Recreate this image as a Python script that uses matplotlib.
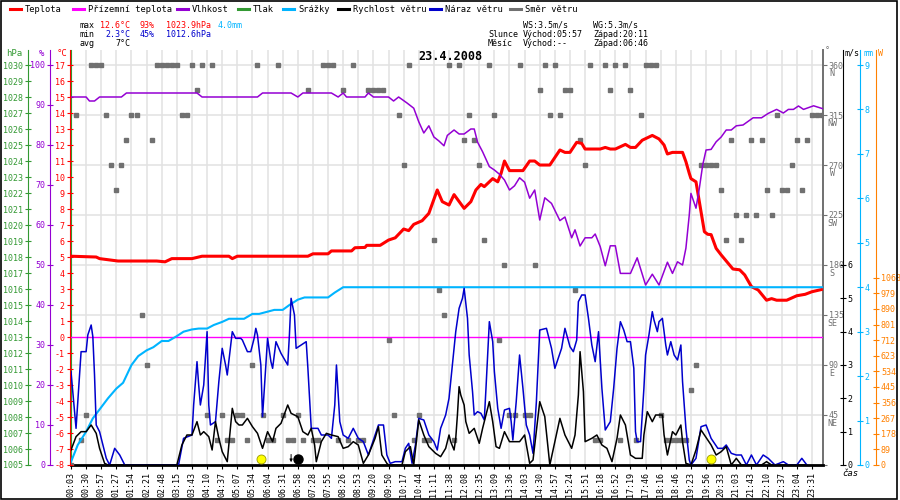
import matplotlib
matplotlib.use("Agg")
import matplotlib.pyplot as plt
from matplotlib.lines import Line2D
from matplotlib.patches import Rectangle

plt.rcParams["font.family"] = ["DejaVu Sans Mono"]
plt.rcParams["font.size"] = 6

# sample index: one sample every 3 steps, a time label every 9 steps
time_labels = ["00:03", "00:30", "00:57", "01:27", "01:54", "02:21", "02:48", "03:15", "03:43", "04:10",
               "04:37", "05:07", "05:34", "06:04", "06:31", "06:58", "07:28", "07:55", "08:26", "08:53",
               "09:20", "09:50", "10:17", "10:44", "11:11", "11:38", "12:08", "12:35", "13:09", "13:36",
               "14:03", "14:30", "14:57", "15:24", "15:51", "16:18", "16:52", "17:19", "17:46", "18:16",
               "18:46", "19:23", "19:56", "20:33", "21:03", "21:43", "22:10", "22:37", "23:04", "23:31"]
tick_idx = [9 * i for i in range(len(time_labels))]

temp_idx = [0, 15, 17, 28, 51, 56, 60, 72, 78, 94, 96, 99, 141, 144, 153, 155, 167, 169, 175, 176,
            184, 189, 193, 198, 201, 204, 209, 213, 218, 221, 225, 228, 234, 238, 241, 244, 246, 251,
            254, 256, 258, 261, 269, 273, 276, 279, 285, 291, 294, 297, 301, 304, 306, 315, 318, 321,
            324, 330, 333, 336, 340, 346, 350, 353, 355, 358, 364, 366, 368, 369, 372, 373, 375, 377,
            379, 381, 384, 387, 392, 394, 398, 401, 405, 409, 414, 417, 420, 426, 432, 437, 441, 448]
temp_val = [5.05, 5.0, 4.9, 4.75, 4.75, 4.7, 4.9, 4.9, 5.05, 5.05, 4.9, 5.05, 5.05, 5.2, 5.2, 5.38,
            5.38, 5.58, 5.6, 5.73, 5.73, 6.06, 6.2, 6.75, 6.65, 7.04, 7.27, 7.73, 9.19, 8.46, 8.25, 8.9,
            8.04, 8.46, 9.19, 9.54, 9.4, 9.9, 9.7, 10.23, 11.0, 10.4, 10.4, 11.0, 11.0, 10.75, 10.75,
            11.69, 11.54, 11.54, 12.17, 12.1, 11.75, 11.75, 11.85, 11.75, 11.75, 12.04, 11.85, 11.85,
            12.3, 12.6, 12.38, 12.0, 11.44, 11.54, 11.54, 10.96, 10.23, 9.9, 9.7, 9.08, 7.83, 6.58,
            6.42, 6.4, 5.54, 5.13, 4.5, 4.25, 4.2, 3.88, 3.15, 2.94, 2.3, 2.4, 2.3, 2.3, 2.58, 2.67,
            2.83, 3.0]

hum_idx = [0, 9, 11, 14, 17, 30, 33, 75, 78, 111, 114, 131, 135, 138, 155, 159, 162, 164, 175, 177,
           180, 189, 192, 195, 200, 204, 207, 210, 213, 216, 219, 222, 224, 228, 231, 234, 238, 240,
           242, 245, 249, 252, 255, 258, 261, 264, 267, 270, 273, 276, 279, 282, 286, 291, 294, 298,
           300, 303, 306, 310, 312, 315, 318, 321, 324, 327, 333, 337, 342, 346, 350, 355, 358, 361,
           364, 366, 368, 369, 372, 374, 376, 378, 381, 384, 387, 390, 393, 396, 400, 406, 411, 415,
           420, 424, 427, 430, 433, 436, 442, 448]
hum_val = [92, 92, 91, 91, 92, 92, 93, 93, 92, 92, 93, 93, 92, 93, 93, 92, 93, 92, 92, 93,
           92, 92, 91, 92, 90.5, 89.2, 85.8, 83, 84.8, 82, 81, 79.8, 82.4, 83.75, 82.75, 82.75, 84, 84,
           80.7, 78.3, 74.6, 73.75, 72.7, 71.25, 68.75, 69.8, 71.8, 70.7, 66.7, 68.75, 61.25, 66.8,
           65.4, 61.1, 62, 56.8, 58.8, 54.75, 56.8, 56.8, 57.75, 54.6, 49.8, 54.8, 54.8, 47.9, 47.9,
           51.8, 45, 47.7, 45, 50.7, 47.9, 50.8, 50, 54.2, 62.5, 67.9, 64.2, 69.2, 75, 78.75, 78.9,
           80.8, 82, 83.75, 83.75, 84.8, 85, 86.8, 86.8, 87.9, 88.9, 88, 88.9, 88.9, 89.75, 88.9,
           89.8, 89]

rain_idx = [0, 4, 9, 13, 18, 22, 27, 31, 36, 40, 45, 49, 54, 58, 63, 67, 72, 76, 81, 85, 90, 94,
            99, 103, 108, 112, 117, 121, 126, 130, 135, 139, 153, 157, 162, 448]
rain_val = [0.07, 0.45, 0.75, 1.05, 1.3, 1.5, 1.72, 1.85, 2.25, 2.45, 2.58, 2.65, 2.79, 2.79, 2.9,
            3.0, 3.05, 3.07, 3.07, 3.15, 3.22, 3.29, 3.29, 3.29, 3.4, 3.4, 3.45, 3.49, 3.49, 3.6,
            3.72, 3.77, 3.77, 3.88, 4.0, 4.0]

gust_idx = [0, 3, 6, 9, 10, 12, 13, 14, 15, 17, 18, 21, 23, 26, 29, 32, 64, 67, 72, 73, 75, 76, 77,
            79, 81, 82, 83, 86, 88, 90, 92, 93, 96, 98, 101, 102, 105, 107, 109, 110, 111, 113, 114,
            116, 117, 119, 120, 122, 125, 129, 130, 131, 133, 134, 137, 140, 141, 143, 147, 149, 153,
            155, 157, 158, 160, 162, 165, 168, 171, 174, 177, 181, 183, 186, 188, 190, 193, 197, 199,
            201, 203, 205, 207, 210, 213, 216, 218, 220, 223, 225, 227, 229, 231, 233, 234, 236, 237,
            239, 240, 242, 244, 246, 247, 249, 251, 252, 254, 256, 258, 261, 262, 263, 265, 267, 269,
            271, 273, 275, 277, 279, 283, 286, 288, 292, 294, 297, 299, 301, 302, 304, 306, 308, 310,
            312, 314, 316, 318, 321, 323, 325, 327, 329, 331, 333, 335, 336, 337, 339, 341, 342, 344,
            346, 347, 349, 350, 352, 354, 355, 357, 359, 361, 363, 364, 366, 368, 369, 372, 375, 378,
            381, 385, 388, 390, 393, 396, 399, 402, 405, 408, 412, 415, 417, 419, 424, 427, 432, 435,
            438]
gust_val = [2.8, 1.1, 3.4, 3.4, 3.9, 4.2, 3.85, 2.7, 1.2, 1.0, 0.8, 0.2, 0, 0.5, 0.3, 0, 0, 0.8, 0.9,
            1.8, 3.1, 2.4, 1.8, 2.4, 4.0, 1.8, 1.2, 1.3, 2.5, 3.5, 3.0, 2.7, 4.0, 3.8, 3.8, 3.75, 3.4,
            3.4, 3.8, 4.1, 3.9, 3.0, 1.45, 3.0, 3.8, 3.1, 2.9, 3.7, 3.35, 3.0, 3.9, 5.0, 4.5, 3.5, 3.6,
            3.7, 2.9, 1.1, 1.1, 0.9, 0.9, 0.8, 1.8, 3.0, 1.3, 0.9, 0.8, 1.1, 0.8, 0.7, 0.3, 0.9, 1.2,
            1.2, 0.3, 0.05, 0.1, 0.1, 0.5, 0.65, 0.05, 0.6, 1.4, 1.35, 0.9, 0.7, 0.45, 1.1, 1.5, 2.0,
            3.0, 4.0, 4.7, 5.0, 5.3, 4.4, 3.3, 2.2, 1.5, 1.6, 1.55, 1.35, 2.3, 4.3, 3.7, 2.8, 1.7, 1.1,
            1.65, 1.7, 1.3, 0.75, 1.9, 3.3, 2.3, 1.2, 0.9, 0.35, 1.9, 4.05, 4.1, 3.5, 2.9, 3.5, 4.1,
            3.55, 3.4, 3.75, 4.9, 5.1, 5.1, 4.4, 3.6, 3.1, 4.0, 2.3, 1.05, 1.3, 2.3, 3.5, 4.3, 4.05,
            3.7, 3.7, 2.9, 1.0, 0.7, 0.7, 2.3, 3.3, 3.9, 4.6, 4.35, 4.0, 4.3, 4.4, 3.6, 3.3, 3.7, 3.3,
            3.15, 3.6, 2.5, 1.1, 0.15, 0, 0.2, 1.15, 1.2, 0.8, 0.5, 0.5, 0.6, 0.35, 0.3, 0.3, 0, 0.3,
            0, 0.3, 0.2, 0.1, 0, 0.1, 0, 0, 0.2, 0]

wind_idx = [0, 3, 6, 9, 12, 15, 17, 20, 22, 63, 66, 69, 72, 75, 77, 79, 82, 84, 86, 88, 90, 93, 96,
            98, 100, 102, 105, 108, 111, 114, 117, 120, 122, 125, 129, 131, 135, 138, 141, 143, 145,
            146, 149, 152, 155, 159, 162, 165, 168, 171, 174, 177, 181, 183, 185, 188, 189, 197, 199,
            202, 204, 207, 210, 213, 217, 220, 223, 225, 226, 228, 229, 230, 231, 232, 234, 235, 237,
            240, 243, 245, 249, 251, 253, 255, 258, 261, 267, 270, 273, 275, 279, 282, 285, 288, 291,
            294, 298, 300, 302, 303, 305, 306, 310, 313, 316, 319, 322, 325, 327, 330, 333, 336, 340,
            341, 343, 346, 348, 352, 353, 355, 358, 360, 363, 364, 366, 369, 372, 375, 377, 381, 384,
            387, 390, 393, 396, 399, 411, 414, 417, 438]
wind_val = [0.45, 0.85, 1.0, 1.0, 1.2, 0.95, 0.5, 0.05, 0, 0, 0.6, 0.9, 0.9, 1.3, 0.9, 1.0, 0.85,
            0.45, 1.3, 0.8, 0.4, 0.1, 1.7, 1.3, 1.2, 1.2, 1.4, 1.15, 0.95, 0.5, 1.0, 0.7, 1.1, 1.25,
            1.8, 1.55, 1.45, 1.0, 0.9, 1.1, 0.6, 0.1, 0.7, 0.95, 0.9, 0.85, 0.5, 0.55, 0.7, 0.6, 0.05,
            0.3, 0.8, 1.15, 0.3, 0.05, 0, 0, 0.4, 0.55, 0, 1.35, 0.9, 0.55, 0.35, 0.25, 0.5, 0.9, 0.7,
            0.45, 0.8, 1.5, 2.35, 2.1, 1.8, 1.3, 0.95, 1.1, 0.65, 1.1, 1.9, 1.3, 0.55, 0.5, 1.0, 0.7,
            0.7, 0.9, 0.05, 0.15, 1.9, 1.45, 0, 0.7, 1.4, 0.9, 0.5, 0.9, 2.1, 3.4, 2.2, 0.7, 0.8, 0.9,
            0.6, 0.5, 0.1, 0.8, 1.5, 1.2, 0.3, 0.2, 0.2, 0.9, 1.6, 1.3, 1.5, 1.5, 0.9, 0.3, 1.0, 0.9,
            1.2, 0.7, 0.05, 0, 0.45, 1.05, 0.9, 0.6, 0.3, 0.4, 0.55, 0, 0.2, 0, 0, 0.1, 0, 0]

dir_idx = list(range(0, 448, 3))
dir_val = [0, 315, 22.5, 45, 360, 360, 360, 315, 270, 247.5, 270, 292.5, 315, 315, 135, 90, 292.5,
           360, 360, 360, 360, 360, 315, 315, 360, 337.5, 360, 45, 360, 22.5, 45, 22.5, 22.5, 45, 45,
           22.5, 90, 360, 45, 22.5, 22.5, 360, 45, 22.5, 22.5, 45, 22.5, 337.5, 22.5, 22.5, 360, 360,
           360, 22.5, 337.5, 22.5, 360, 22.5, 22.5, 337.5, 337.5, 337.5, 337.5, 112.5, 45, 315, 270,
           360, 22.5, 45, 22.5, 22.5, 202.5, 157.5, 135, 360, 22.5, 360, 292.5, 315, 292.5, 270,
           202.5, 360, 315, 112.5, 180, 45, 45, 360, 45, 45, 180, 337.5, 360, 315, 360, 315, 337.5,
           337.5, 157.5, 292.5, 270, 360, 22.5, 22.5, 360, 337.5, 360, 22.5, 360, 337.5, 22.5, 315,
           360, 360, 360, 45, 22.5, 22.5, 22.5, 22.5, 22.5, 67.5, 90, 270, 270, 270, 270, 247.5,
           202.5, 292.5, 225, 202.5, 225, 292.5, 225, 292.5, 247.5, 225, 315, 247.5, 247.5, 270,
           292.5, 247.5, 292.5, 315, 315, 315]

sun_idx = [113, 381]      # sunrise 05:57, sunset 20:11
moon_idx = [135]
moonset_idx = 131

temp_ticks = list(range(-8, 18))
hum_ticks = list(range(0, 101, 10))
hpa_ticks = list(range(1005, 1031))
dir_ticks = list(range(0, 361, 45))
dir_names = ["", "NE", "E", "SE", "S", "SW", "W", "NW", "N"]
ms_ticks = list(range(0, 7))
mm_ticks = list(range(0, 10))
w_ticks = [89 * i for i in range(13)]

RED = "#ff0000"
MAG = "#ff00ff"
PURPLE = "#9400d3"
GREEN = "#339933"
CYAN = "#00b4ff"
BLUE = "#0000cc"
GREY = "#707070"
ORANGE = "#ff8000"

fig = plt.figure(figsize=(9, 5), dpi=100)
ax = fig.add_axes([71 / 900, 35 / 500, 752 / 900, 415 / 500])
ax.set_xlim(0, 447.6)
ax.set_ylim(0, 373.5)
ax.set_xticks(tick_idx)
ax.set_xticklabels(time_labels, rotation=90)
ax.tick_params(axis="x", direction="out", length=3, pad=2, labelsize=6)
ax.grid(True, color="#e2e2e2", lw=1.1)
ax.set_axisbelow(True)
ax.spines["top"].set_visible(False)
ax.spines["left"].set_color(GREEN)
ax.spines["right"].set_color(GREY)
ax.spines["right"].set_linewidth(1.4)
ax.spines["bottom"].set_linewidth(2)


def side_axis(side, offset, color, lim, ticks, labels):
    a = ax.twinx()
    a.set_ylim(lim)
    for sp in a.spines.values():
        sp.set_visible(False)
    a.spines[side].set_visible(True)
    a.spines[side].set_position(("outward", offset))
    a.spines[side].set_color(color)
    if side == "left":
        a.yaxis.tick_left()
    else:
        a.yaxis.tick_right()
    a.set_yticks(ticks)
    a.set_yticklabels(labels)
    a.tick_params(axis="y", colors=color, direction="inout", length=5, pad=1, labelsize=6)
    return a


ax_hpa = side_axis("left", 31, GREEN, (1005, 1030.94), hpa_ticks, [str(v) for v in hpa_ticks])
ax_temp = side_axis("left", 1, RED, (-8, 17.94), temp_ticks, [str(v) for v in temp_ticks])
ax_hum = side_axis("left", 15, PURPLE, (0, 103.75), hum_ticks, [str(v) for v in hum_ticks])
ax_rain = side_axis("right", 26.6, CYAN, (0, 9.3375), mm_ticks, [str(v) for v in mm_ticks])
ax_wind = side_axis("right", 14.4, "black", (0, 12.45), ms_ticks, [str(v) for v in ms_ticks])
ax_w = side_axis("right", 38.2, ORANGE, (0, 2366), w_ticks, [str(v) for v in w_ticks])

# direction axis on the right of the main axes
ax.yaxis.tick_right()
ax.set_yticks(dir_ticks)
ax.set_yticklabels([str(v) if v else "" for v in dir_ticks])
ax.tick_params(axis="y", colors=GREY, direction="out", length=3, pad=1, labelsize=6)
for v, name in zip(dir_ticks, dir_names):
    ax.annotate(name, xy=(1, v), xycoords=("axes fraction", "data"), xytext=(6.5, -6),
                textcoords="offset points", ha="center", va="center", color=GREY, fontsize=6)

ax.plot(dir_idx, dir_val, ls="none", marker="s", ms=3.4, color=GREY, zorder=3)

ax_temp.axhline(0, color=MAG, lw=1)
ax_temp.plot(temp_idx, temp_val, color=RED, lw=2.2)
ax_hum.plot(hum_idx, hum_val, color=PURPLE, lw=1.1)
ax_rain.plot(rain_idx, rain_val, color=CYAN, lw=1.5)
ax_wind.plot(gust_idx, gust_val, color=BLUE, lw=1.1)
ax_wind.plot(wind_idx, wind_val, color="black", lw=1.1)
ax_wind.plot(sun_idx, [0.17] * len(sun_idx), ls="none", marker="o", ms=6.5,
             mfc="#ffff00", mec="#999900", mew=0.6, clip_on=False)
ax_wind.plot(moon_idx, [0.17] * len(moon_idx), ls="none", marker="o", ms=6.5,
             mfc="black", mec="black", clip_on=False)
ax_wind.annotate("", xy=(moonset_idx, 0), xytext=(moonset_idx, 0.4),
                 arrowprops=dict(arrowstyle="-|>", color="black", lw=0.7, mutation_scale=4))

# column headers
fig.text(14 / 900, 1 - 53 / 500, "hPa", color=GREEN, ha="center", va="center", fontsize=6.5)
fig.text(42 / 900, 1 - 53 / 500, "%", color=PURPLE, ha="center", va="center", fontsize=6.5)
fig.text(62 / 900, 1 - 53 / 500, "°C", color=RED, ha="center", va="center", fontsize=6.5)
fig.text(827 / 900, 1 - 51 / 500, "°", color=GREY, ha="center", va="center", fontsize=6)
fig.text(852 / 900, 1 - 53 / 500, "m/s", color="black", ha="center", va="center", fontsize=6)
fig.text(868 / 900, 1 - 53 / 500, "mm", color=CYAN, ha="center", va="center", fontsize=6)
fig.text(880 / 900, 1 - 53 / 500, "W", color=ORANGE, ha="center", va="center", fontsize=6)
fig.text(850 / 900, 1 - 474 / 500, "čas", color="black", ha="center", va="center",
         fontsize=6.5, style="italic")

ax.text(0.5, 1 - 57 / 500, "23.4.2008", transform=fig.transFigure, ha="center", va="center",
        fontsize=8.5, fontweight="bold")

# legend row
legend_items = [("Teplota", RED, 10), ("Přízemní teplota", MAG, 73), ("Vlhkost", PURPLE, 177),
                ("Tlak", GREEN, 238), ("Srážky", CYAN, 283), ("Rychlost větru", "black", 338),
                ("Náraz větru", BLUE, 430), ("Směr větru", GREY, 510)]
for name, col, x0 in legend_items:
    yy = 1 - 9 / 500
    fig.add_artist(Line2D([x0 / 900, (x0 + 11) / 900], [yy, yy], color=col, lw=2.2,
                          transform=fig.transFigure))
    fig.text((x0 + 15) / 900, yy, name, color="black", va="center", fontsize=6.3)

# stats block
stats = [
    (80, 25, "max", "black"), (100, 25, "12.6°C", RED), (140, 25, "93%", RED),
    (166, 25, "1023.9hPa", RED), (218, 25, "4.0mm", CYAN),
    (80, 34, "min", "black"), (105, 34, "2.3°C", BLUE), (140, 34, "45%", BLUE),
    (166, 34, "1012.6hPa", BLUE),
    (80, 44, "avg", "black"), (115, 44, "7°C", "black"),
    (523, 25, "WS:3.5m/s", "black"), (593, 25, "WG:5.3m/s", "black"),
    (488, 34, "Slunce", "black"), (523, 34, "Východ:05:57", "black"), (593, 34, "Západ:20:11", "black"),
    (488, 44, "Měsíc", "black"), (523, 44, "Východ:--", "black"), (593, 44, "Západ:06:46", "black"),
]
for x0, y0, s, col in stats:
    fig.text(x0 / 900, 1 - y0 / 500, s, color=col, va="center", fontsize=6)

fig.add_artist(Rectangle((0.001, 0.002), 0.996, 0.997, fill=False, ec="black", lw=1.2,
                         transform=fig.transFigure))

fig.savefig("out.png", dpi=100)
